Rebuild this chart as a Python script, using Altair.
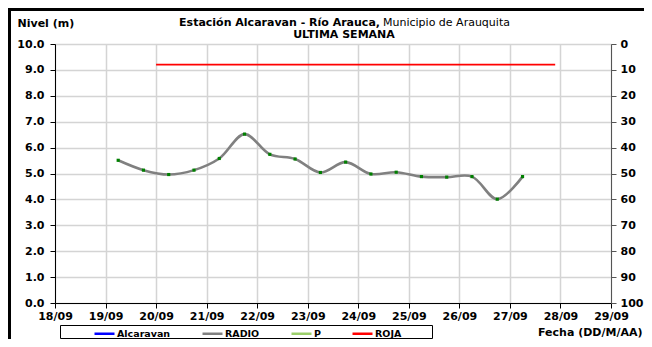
import altair as alt
import pandas as pd

# ---------------- data ----------------
radio_fechas = [
    "2012-09-19T06:00:00Z", "2012-09-19T18:00:00Z",
    "2012-09-20T06:00:00Z", "2012-09-20T18:00:00Z",
    "2012-09-21T06:00:00Z", "2012-09-21T18:00:00Z",
    "2012-09-22T06:00:00Z", "2012-09-22T18:00:00Z",
    "2012-09-23T06:00:00Z", "2012-09-23T18:00:00Z",
    "2012-09-24T06:00:00Z", "2012-09-24T18:00:00Z",
    "2012-09-25T06:00:00Z", "2012-09-25T18:00:00Z",
    "2012-09-26T06:00:00Z", "2012-09-26T18:00:00Z",
    "2012-09-27T06:00:00Z",
]
radio_nivel = [5.51, 5.13, 4.96, 5.13, 5.58, 6.52, 5.74, 5.56, 5.04,
               5.44, 4.98, 5.05, 4.88, 4.86, 4.88, 4.01, 4.88]

roja_fechas = ["2012-09-20T00:00:00Z", "2012-09-27T21:30:00Z"]
roja_nivel = [9.2, 9.2]

series = ["Alcaravan", "RADIO", "P", "ROJA"]
series_colores = ["#0000ff", "#808080", "#9bcf6a", "#ff0000"]

dias_eje = [18, 19, 20, 21, 22, 23, 24, 25, 26, 27, 28, 29]
nivel_ticks = [0, 1, 2, 3, 4, 5, 6, 7, 8, 9, 10]
precip_ticks = [0, 10, 20, 30, 40, 50, 60, 70, 80, 90, 100]

titulo_negrita = "Estación Alcaravan - Río Arauca,"
titulo_normal = "Municipio de Arauquita"
subtitulo = "ULTIMA SEMANA"
titulo_y = "Nivel (m)"
titulo_x = "Fecha (DD/M/AA)"

# ---------------- tables ----------------
lineas = pd.DataFrame({
    "fecha": radio_fechas + roja_fechas,
    "nivel": radio_nivel + roja_nivel,
    "serie": ["RADIO"] * len(radio_fechas) + ["ROJA"] * len(roja_fechas),
})
puntos = pd.DataFrame({"fecha": radio_fechas, "nivel": radio_nivel})
precip = pd.DataFrame({"precip": [precip_ticks[0], precip_ticks[-1]]})
uno = pd.DataFrame({"k": [0]})

FONT = "DejaVu Sans"
W, H = 556, 259

x_scale = alt.Scale(
    type="utc",
    domain=[alt.DateTime(year=2012, month=9, date=dias_eje[0], utc=True),
            alt.DateTime(year=2012, month=9, date=dias_eje[-1], utc=True)],
)
x_axis = alt.Axis(
    values=[alt.DateTime(year=2012, month=9, date=d, utc=True) for d in dias_eje],
    labelExpr="utcFormat(datum.value, '%d/%m')",
    labelOverlap=False, labelFlush=False,
    grid=True, gridColor="#d4d4d4", gridWidth=1.5,
    domainColor="black", tickColor="black", tickSize=5,
    labelPadding=2, labelFont=FONT, labelFontWeight="bold", labelFontSize=11,
    labelColor="black", labelAngle=0,
    title=titulo_x, titleFont=FONT, titleFontWeight="bold", titleFontSize=11,
    titleColor="black", titleAnchor="end", titleAlign="right",
    titleBaseline="alphabetic", titleX=587, titleY=32.5,
)
y_scale = alt.Scale(domain=[0, 10])
y_axis = alt.Axis(
    values=nivel_ticks, format=".1f", labelOverlap=False, labelFlush=False,
    grid=True, gridColor="#d4d4d4", gridWidth=1.5,
    domainColor="black", tickColor="black", tickSize=5,
    labelPadding=6, labelFont=FONT, labelFontWeight="bold", labelFontSize=11,
    labelColor="black",
    title=titulo_y, titleFont=FONT, titleFontWeight="bold", titleFontSize=11,
    titleColor="black", titleAngle=0, titleAlign="left",
    titleBaseline="alphabetic", titleX=-38, titleY=-17.8,
)

lineas_ch = alt.Chart(lineas).mark_line(interpolate="catmull-rom").encode(
    x=alt.X("fecha:T", scale=x_scale, axis=x_axis),
    y=alt.Y("nivel:Q", scale=y_scale, axis=y_axis),
    color=alt.Color(
        "serie:N",
        scale=alt.Scale(domain=series, range=series_colores),
        legend=alt.Legend(
            orient="none", legendX=38, legendY=278, direction="horizontal",
            title=None, symbolType="stroke", symbolSize=400,
            symbolStrokeWidth=2.5, labelFont=FONT, labelFontWeight="bold",
            labelFontSize=9.5, labelColor="black", labelOffset=1,
            columnPadding=26, padding=0,
        ),
    ),
    strokeWidth=alt.StrokeWidth(
        "serie:N", scale=alt.Scale(domain=["RADIO", "ROJA"], range=[2.6, 1.8]),
        legend=None,
    ),
)

puntos_ch = alt.Chart(puntos).mark_point(
    shape="square", filled=True, size=10, color="#008000", opacity=1
).encode(
    x=alt.X("fecha:T", scale=x_scale, axis=x_axis),
    y=alt.Y("nivel:Q", scale=y_scale, axis=y_axis),
)

izquierda = alt.layer(lineas_ch, puntos_ch).resolve_scale(y="shared", x="shared")

derecha = alt.Chart(precip).mark_point(opacity=0).encode(
    y=alt.Y("precip:Q",
            scale=alt.Scale(domain=[precip_ticks[0], precip_ticks[-1]], reverse=True),
            axis=alt.Axis(
                orient="right", values=precip_ticks, grid=False,
                labelOverlap=False, labelFlush=False,
                domainColor="#555555", tickColor="#555555", tickSize=5,
                labelPadding=4, labelFont=FONT, labelFontWeight="bold",
                labelFontSize=11, labelColor="black", title=None,
            )),
)

# decorative: titles, legend box, outer frame
t1 = alt.Chart(uno).mark_text(
    text=titulo_negrita, font=FONT, fontWeight="bold", fontSize=11,
    align="right", baseline="alphabetic", color="black",
).encode(x=alt.value(325), y=alt.value(-17.8))
t2 = alt.Chart(uno).mark_text(
    text=titulo_normal, font=FONT, fontWeight="normal", fontSize=11,
    align="left", baseline="alphabetic", color="black",
).encode(x=alt.value(328), y=alt.value(-17.8))
t3 = alt.Chart(uno).mark_text(
    text=subtitulo, font=FONT, fontWeight="bold", fontSize=11,
    align="center", baseline="alphabetic", color="black",
).encode(x=alt.value(289), y=alt.value(-6.2))

caja = alt.Chart(uno).mark_rect(fill="white", stroke="black", strokeWidth=1).encode(
    x=alt.value(5.5), x2=alt.value(377.5), y=alt.value(281.5), y2=alt.value(294.5)
)
marco_izq = alt.Chart(uno).mark_rule(color="black", strokeWidth=3).encode(
    x=alt.value(-45.5), y=alt.value(-36), y2=alt.value(H + 36)
)
marco_sup = alt.Chart(uno).mark_rule(color="black", strokeWidth=3).encode(
    x=alt.value(-47), x2=alt.value(W + 33), y=alt.value(-34.5)
)

chart = alt.layer(
    caja, izquierda, derecha, t1, t2, t3, marco_izq, marco_sup
).resolve_scale(y="independent").properties(
    width=W, height=H, autosize="none",
    padding={"left": 47, "top": 36, "right": 33, "bottom": 36},
    background="white",
).configure_view(stroke="#808080", strokeWidth=1)

chart.save("out.html", embed_options={"renderer": "svg", "actions": False})
